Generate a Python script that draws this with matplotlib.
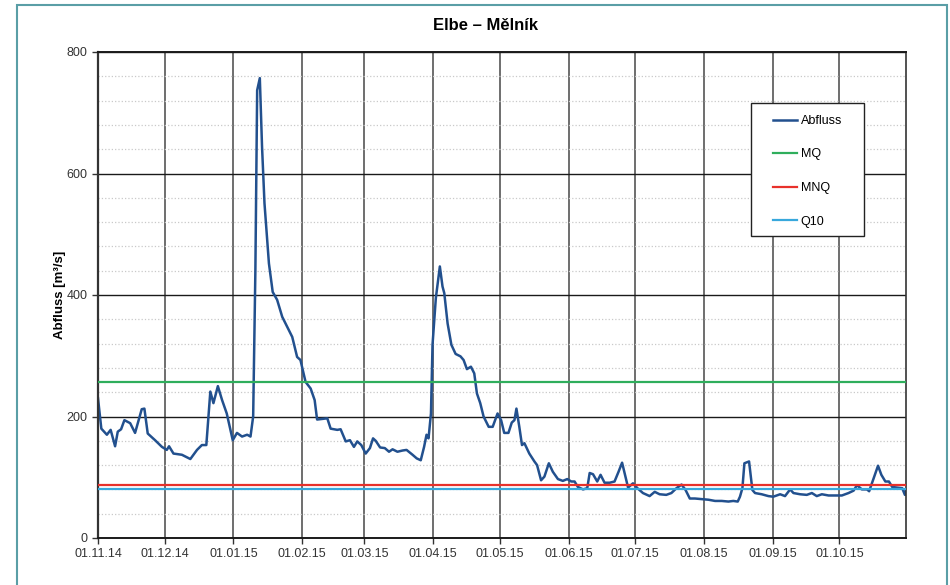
from datetime import datetime

import numpy as np
import matplotlib
matplotlib.use('Agg')
import matplotlib.pyplot as plt
import matplotlib.dates as mdates
from matplotlib.patches import Rectangle

plt.rcParams['font.family'] = ['Liberation Sans', 'DejaVu Sans']

# Abfluss: days since 01.11.2014 and discharge in m3/s
day_offset = [
    0, 1.5, 4, 5.7, 7.7, 8.9, 10.4, 11.9, 14.5, 16.7, 19.7, 20.9, 22.4, 25.7,
    28.8, 31, 32, 34, 37.8, 41.6, 44.6, 46.8, 48.8, 50.6, 52, 54, 55.9, 58,
    60.7, 62.6, 64.9, 67.2, 68.7, 69.9, 70.9, 71.7, 72.9, 73.9, 75, 77, 78.7,
    80.7, 83, 85.2, 87.5, 89.7, 91.2, 93.5, 95.8, 97.6, 98.7, 103.3, 104.8,
    107.8, 109.3, 111.6, 113.5, 115.3, 116.8, 118.6, 120.6, 122.5, 123.9,
    125.1, 127.1, 129.2, 131.1, 132.7, 134.9, 137.2, 139, 141.7, 143.6, 145.4,
    146.9, 148, 148.9, 150, 150.7, 152.2, 154, 155.2, 156, 157.5, 159.2,
    161.1, 163.3, 164.7, 166.2, 168, 169.5, 170.7, 172.2, 173.7, 176, 177.8,
    180, 181.6, 183, 184.9, 186.4, 187.6, 188.5, 189.8, 191, 192.1, 194.3,
    196.6, 197.8, 199.6, 201.1, 203.1, 204.9, 207.2, 209.4, 211.4, 213.2,
    214.7, 216.2, 218.5, 220.4, 221.5, 223, 224.9, 226.4, 228.2, 230.5,
    232.7, 234.5, 236.1, 237.6, 238.8, 241, 243, 245.5, 248.5, 250.8, 253,
    256, 258.3, 260.6, 262.9, 264.7, 266.6, 268.9, 271.9, 275, 278, 281, 284,
    286.2, 288.2, 289.2, 290.3, 291.2, 293.3, 294.8, 296, 299, 302, 304.2,
    307.3, 309.5, 311.8, 313.3, 316.3, 319.3, 321.6, 323.8, 326.1, 329.1,
    332.1, 335.1, 338.1, 340.4, 341.9, 344.1, 346.4, 347.4, 349.4, 351.4,
    352.9, 354.7, 356.3, 357.8, 360, 362.3, 363.5, 364,
]
abfluss = [
    230, 180, 170, 178, 151, 175, 179, 194, 189, 173, 212, 213, 172, 161,
    150, 145, 151, 139, 137, 130, 145, 153, 153, 241, 222, 250, 227, 205,
    161, 173, 167, 170, 167, 200, 441, 737, 757, 644, 551, 452, 405,
    392, 364, 348, 331, 298, 293, 257, 246, 227, 195, 197, 180,
    178, 179, 159, 161, 150, 159, 153, 139, 148, 164,
    160, 149, 148, 142, 146, 142, 144, 145, 137, 131, 128,
    150, 170, 164, 205, 318, 395, 447, 414, 403, 353, 318,
    303, 299, 293, 278, 282, 271, 238, 222, 200, 183, 183,
    205, 194, 173, 173, 190, 194, 213, 183, 153, 156, 139,
    126, 120, 95, 101, 123, 109, 97, 94, 97, 93,
    93, 84, 80, 82, 107, 105, 93, 104, 91, 91,
    93, 109, 124, 101, 83, 90, 82, 74, 69, 76, 72,
    71, 74, 82, 88, 79, 65, 65, 64, 63, 61, 61, 60,
    61, 60, 68, 82, 123, 126, 79, 74, 72, 69, 68,
    72, 69, 80, 74, 72, 71, 74, 69, 72, 70,
    70, 70, 74, 78, 87, 80, 80, 77, 98, 119,
    104, 93, 93, 84, 83, 82, 71, 79,
]

# reference levels
mq = 256
mnq = 88
q10 = 81

start = datetime(2014, 11, 1)
end = datetime(2015, 10, 31)
x = mdates.date2num(start) + np.array(day_offset)

fig = plt.figure(figsize=(9.5, 5.85), dpi=100)
ax = fig.add_axes([98 / 950, 1 - 538 / 585, 808 / 950, 486 / 585])

# outer frame of the original graphic
fig.patches.append(Rectangle((17 / 950, -0.05), 930 / 950, 1.05 - 5 / 585,
                             transform=fig.transFigure, fill=False,
                             edgecolor='#5a9ea6', linewidth=1.5))

# grid
ax.set_ylim(0, 800)
ax.set_xlim(mdates.date2num(start), mdates.date2num(end))
ax.set_yticks([0, 200, 400, 600, 800])
ax.set_yticks(np.arange(0, 801, 40), minor=True)
ax.xaxis.set_major_locator(mdates.MonthLocator(bymonthday=1))
ax.xaxis.set_major_formatter(mdates.DateFormatter('%d.%m.%y'))
ax.grid(axis='y', which='minor', color='#c9c9c9', linestyle=':', linewidth=0.9)
ax.grid(axis='y', which='major', color='#1a1a1a', linestyle='-', linewidth=1.0)
ax.grid(axis='x', which='major', color='#555555', linestyle='-', linewidth=1.2)
ax.set_axisbelow(True)

line, = ax.plot(x, abfluss, color='#22508e', linewidth=1.8, label='Abfluss', zorder=2)
ax.axhline(mq, color='#2fae5c', linewidth=1.6, label='MQ', zorder=3)
ax.axhline(q10, color='#38a8dc', linewidth=1.6, label='Q10', zorder=3)
ax.axhline(mnq, color='#e8312b', linewidth=1.6, label='MNQ', zorder=3)

for side in ['top', 'bottom']:
    ax.spines[side].set_color('#1a1a1a')
    ax.spines[side].set_linewidth(1.4)
ax.spines['left'].set_color('#333333')
ax.spines['left'].set_linewidth(1.6)
ax.spines['right'].set_color('#333333')
ax.spines['right'].set_linewidth(1.2)

ax.tick_params(axis='both', which='major', direction='out', length=4,
               width=1, color='#333333', labelsize=9, labelcolor='#333333')
ax.tick_params(axis='y', which='minor', length=0)
ax.set_ylabel('Abfluss [m³/s]', fontsize=9.5, fontweight='bold', labelpad=0.5)

fig.text(485 / 950, 1 - 25 / 585, 'Elbe – Mělník', ha='center', va='center',
         fontsize=12, fontweight='bold')

# legend box drawn separately so the padding can differ left/right vs top/bottom
ax.add_patch(Rectangle(((751 - 98) / 808, (538 - 236) / 486), 113 / 808, 133 / 486,
                       transform=ax.transAxes, facecolor='white',
                       edgecolor='#222222', linewidth=1.0, zorder=5))
handles, labels = ax.get_legend_handles_labels()
order = ['Abfluss', 'MQ', 'MNQ', 'Q10']
hmap = dict(zip(labels, handles))
leg = ax.legend([hmap[k] for k in order], order, loc='upper left',
                bbox_to_anchor=((773 - 98) / 808, (538 - 115) / 486),
                fontsize=9, frameon=False, borderpad=0, borderaxespad=0,
                labelspacing=1.72, handlelength=1.95, handletextpad=0.25)
leg.set_zorder(6)

fig.savefig('out.png', dpi=100)
